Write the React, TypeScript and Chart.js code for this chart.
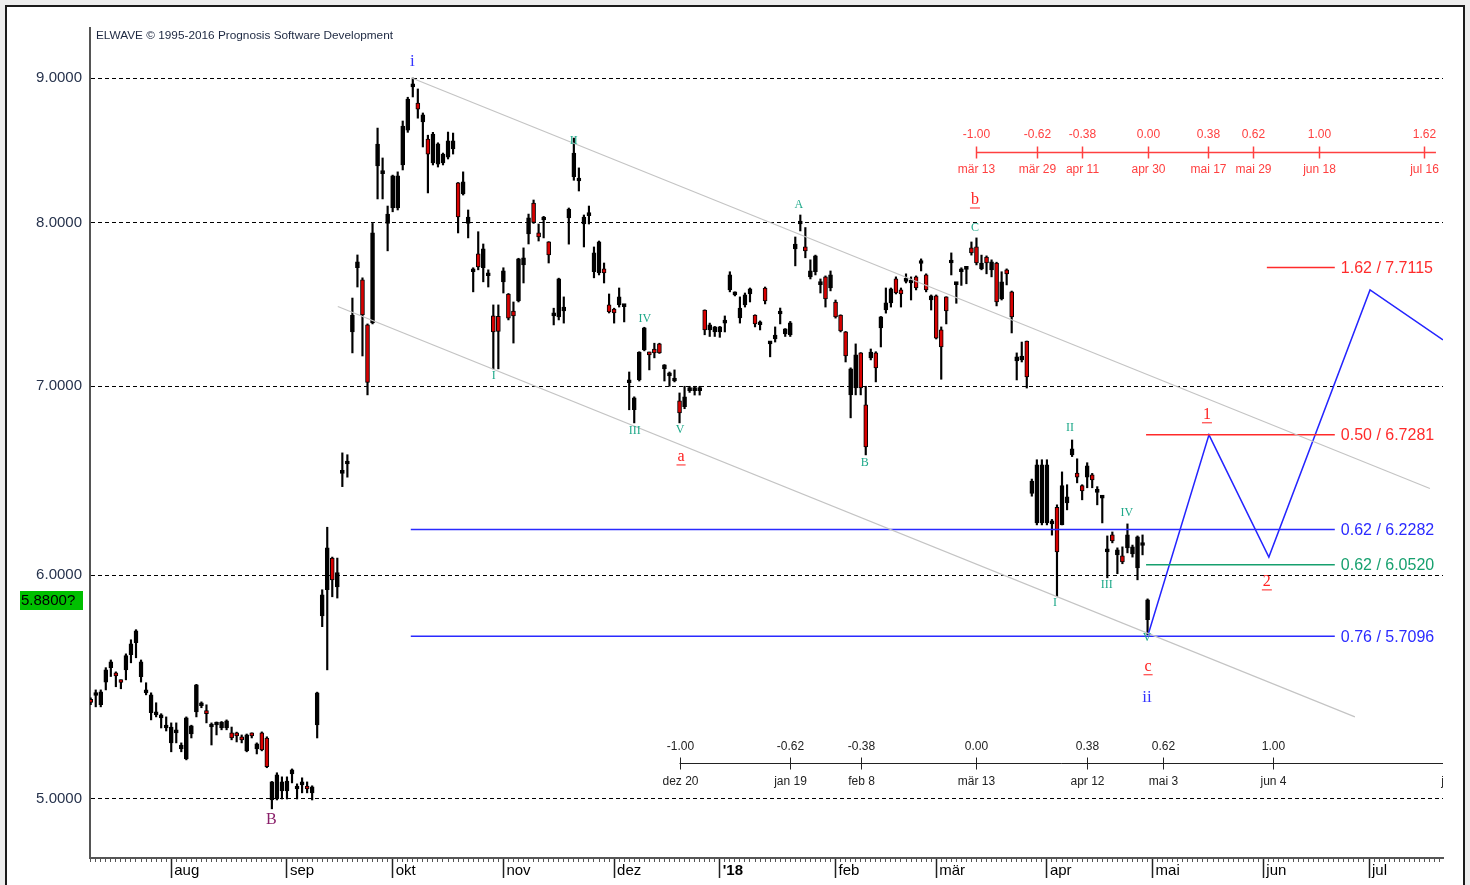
import React, { useEffect, useRef } from "react";
import { Chart, registerables } from "chart.js";

Chart.register(...registerables);

const FONT = "'Liberation Sans', Arial, sans-serif";
const SERIF = "'Liberation Serif', 'Times New Roman', serif";

// Daily candles, index 0 = Mon 10 Jul 2017, one step per weekday
const openP = [
  5.42, 5.44, 5.40, 5.50, 5.565, 5.542, 5.505, 5.555, 5.624, 5.679,
  5.524, 5.452, 5.364, 5.355, 5.342, 5.298, 5.234, 5.277, 5.208, 5.166,
  5.272, 5.368, 5.395, 5.373, 5.302, 5.311, 5.298, 5.298, 5.277, 5.277,
  5.26, 5.2, 5.27, 5.208, 5.277, 5.255, 4.996, 5.0, 5.033, 5.033,
  5.103, 5.041, 5.058, 5.045, 5.025, 5.311, 5.805, 5.93, 6.085, 5.944,
  6.52, 6.57, 7.317, 7.71, 7.634, 7.359, 7.371, 8.377, 8.325, 7.994,
  8.095, 8.095, 8.384, 8.626, 8.935, 8.818, 8.683, 8.563, 8.398, 8.39,
  8.398, 8.438, 8.494, 8.262, 8.188, 7.994, 7.685, 7.798, 7.71, 7.66,
  7.413, 7.41, 7.622, 7.547, 7.443, 7.504, 7.728, 7.925, 8.128, 7.932,
  8.016, 7.874, 7.413, 7.407, 7.443, 8.03, 8.304, 8.275, 7.99, 8.045,
  7.685, 7.678, 7.703, 7.48, 7.455, 7.48, 7.47, 7.02, 6.867, 7.036,
  7.21, 7.193, 7.216, 7.246, 7.1, 7.06, 7.03, 6.917, 6.884, 6.975,
  6.975, 6.975, 7.449, 7.329, 7.317, 7.317, 7.37, 7.572, 7.541, 7.401,
  7.48, 7.547, 7.419, 7.36, 7.584, 7.246, 7.275, 7.425, 7.305, 7.299,
  7.83, 7.99, 7.842, 7.653, 7.685, 7.605, 7.653, 7.584, 7.498, 7.419,
  7.317, 6.951, 6.99, 7.193, 6.895, 7.164, 7.193, 7.341, 7.449, 7.492,
  7.64, 7.572, 7.625, 7.615, 7.653, 7.737, 7.665, 7.51, 7.535, 7.329,
  7.529, 7.74, 7.605, 7.685, 7.70, 7.836, 7.842, 7.703, 7.778, 7.697,
  7.74, 7.516, 7.697, 7.56, 7.146, 7.152, 7.263, 6.414, 6.262, 6.262,
  6.262, 6.257, 6.342, 6.252, 6.365, 6.619, 6.522, 6.455, 6.50, 6.512,
  6.42, 6.39, 6.116, 6.201, 6.101, 6.096, 6.136, 6.106, 6.037, 6.148,
  5.787,
];
const highP = [
  5.43, 5.465, 5.465, 5.565, 5.60, 5.546, 5.51, 5.628, 5.693, 5.74,
  5.60, 5.497, 5.452, 5.408, 5.36, 5.346, 5.32, 5.32, 5.234, 5.346,
  5.31, 5.49, 5.412, 5.399, 5.32, 5.324, 5.326, 5.333, 5.302, 5.28,
  5.268, 5.272, 5.277, 5.234, 5.281, 5.26, 5.072, 5.108, 5.091, 5.091,
  5.124, 5.062, 5.087, 5.07, 5.054, 5.455, 5.93, 6.24, 6.09, 6.085,
  6.63, 6.62, 7.522, 7.791, 7.647, 7.365, 7.994, 8.64, 8.432, 8.108,
  8.315, 8.337, 8.69, 8.86, 9.0, 8.92, 8.747, 8.59, 8.61, 8.537,
  8.466, 8.612, 8.605, 8.265, 8.337, 8.082, 7.71, 7.94, 7.861, 7.697,
  7.48, 7.48, 7.71, 7.55, 7.498, 7.77, 7.836, 8.055, 8.148, 7.99,
  8.04, 7.876, 7.46, 7.645, 7.529, 8.095, 8.57, 8.364, 8.049, 8.108,
  7.842, 7.88, 7.74, 7.547, 7.46, 7.584, 7.477, 7.082, 6.94, 7.2,
  7.345, 7.198, 7.25, 7.25, 7.125, 7.082, 7.094, 6.962, 7.0, 7.0,
  7.0, 7.0, 7.45, 7.37, 7.35, 7.35, 7.413, 7.685, 7.56, 7.529,
  7.553, 7.584, 7.42, 7.383, 7.59, 7.26, 7.347, 7.461, 7.337, 7.38,
  7.906, 8.049, 7.967, 7.76, 7.79, 7.64, 7.659, 7.69, 7.51, 7.42,
  7.32, 7.106, 7.246, 7.195, 7.0, 7.216, 7.2, 7.41, 7.584, 7.584,
  7.653, 7.584, 7.672, 7.653, 7.659, 7.766, 7.672, 7.541, 7.541, 7.347,
  7.53, 7.804, 7.615, 7.71, 7.716, 7.874, 7.9, 7.79, 7.785, 7.76,
  7.745, 7.685, 7.703, 7.565, 7.193, 7.257, 7.263, 6.49, 6.593, 6.593,
  6.593, 6.28, 6.355, 6.528, 6.46, 6.70, 6.598, 6.46, 6.577, 6.52,
  6.45, 6.40, 6.196, 6.216, 6.136, 6.141, 6.257, 6.15, 6.196, 6.201,
  5.886,
];
const lowP = [
  5.40, 5.39, 5.39, 5.465, 5.525, 5.479, 5.47, 5.51, 5.587, 5.61,
  5.50, 5.443, 5.333, 5.346, 5.298, 5.285, 5.196, 5.234, 5.196, 5.162,
  5.255, 5.346, 5.386, 5.32, 5.225, 5.268, 5.29, 5.29, 5.247, 5.238,
  5.234, 5.196, 5.255, 5.187, 5.2, 5.129, 4.96, 4.996, 5.0, 5.0,
  5.066, 5.0, 5.025, 5.025, 4.996, 5.255, 5.754, 5.555, 5.896, 5.89,
  6.45, 6.50, 7.193, 7.59, 7.175, 6.951, 7.365, 8.155, 8.155, 7.817,
  8.07, 8.082, 8.35, 8.61, 8.862, 8.71, 8.508, 8.195, 8.384, 8.37,
  8.384, 8.425, 8.459, 7.932, 8.181, 7.9, 7.56, 7.697, 7.622, 7.59,
  7.1, 7.1, 7.553, 7.389, 7.251, 7.498, 7.615, 7.861, 7.994, 7.88,
  7.9, 7.74, 7.359, 7.389, 7.37, 7.86, 8.28, 8.208, 7.842, 7.99,
  7.647, 7.665, 7.615, 7.431, 7.37, 7.467, 7.377, 6.867, 6.794, 7.03,
  7.205, 7.094, 7.164, 7.19, 7.03, 7.0, 7.025, 6.794, 6.873, 6.965,
  6.95, 6.95, 7.3, 7.29, 7.29, 7.285, 7.317, 7.56, 7.535, 7.37,
  7.467, 7.498, 7.347, 7.329, 7.486, 7.17, 7.257, 7.365, 7.29, 7.29,
  7.722, 7.945, 7.773, 7.64, 7.665, 7.553, 7.467, 7.566, 7.40, 7.317,
  7.14, 6.822, 6.951, 6.951, 6.619, 7.152, 7.025, 7.228, 7.43, 7.467,
  7.547, 7.467, 7.615, 7.51, 7.572, 7.69, 7.56, 7.449, 7.275, 7.04,
  7.365, 7.665, 7.49, 7.6, 7.61, 7.79, 7.728, 7.697, 7.672, 7.653,
  7.474, 7.51, 7.603, 7.311, 7.036, 7.14, 6.99, 6.40, 6.252, 6.252,
  6.252, 6.2, 5.896, 6.252, 6.329, 6.61, 6.47, 6.381, 6.444, 6.444,
  6.355, 6.262, 5.988, 6.161, 6.008, 6.057, 6.111, 6.09, 5.978, 6.101,
  5.716,
];
const closeP = [
  5.41, 5.445, 5.456, 5.555, 5.592, 5.528, 5.498, 5.62, 5.674, 5.735,
  5.592, 5.465, 5.443, 5.368, 5.355, 5.311, 5.302, 5.29, 5.225, 5.342,
  5.307, 5.488, 5.408, 5.36, 5.311, 5.32, 5.324, 5.329, 5.255, 5.264,
  5.247, 5.268, 5.264, 5.23, 5.204, 5.133, 5.07, 5.099, 5.07, 5.074,
  5.12, 5.045, 5.062, 5.041, 5.05, 5.452, 5.906, 6.136, 5.978, 6.013,
  6.535, 6.585, 7.419, 7.747, 7.419, 7.022, 7.932, 8.528, 8.335, 8.055,
  8.31, 8.31, 8.654, 8.847, 8.956, 8.775, 8.733, 8.459, 8.598, 8.53,
  8.459, 8.55, 8.55, 8.036, 8.27, 8.036, 7.697, 7.716, 7.83, 7.67,
  7.317, 7.32, 7.69, 7.40, 7.413, 7.766, 7.773, 8.03, 8.0, 7.906,
  8.036, 7.791, 7.419, 7.64, 7.467, 8.088, 8.466, 8.29, 8.036, 8.055,
  7.804, 7.874, 7.678, 7.437, 7.431, 7.529, 7.475, 7.03, 6.934, 7.198,
  7.341, 7.181, 7.193, 7.193, 7.123, 7.065, 7.036, 6.85, 6.94, 6.985,
  6.985, 6.985, 7.329, 7.359, 7.347, 7.347, 7.377, 7.665, 7.553, 7.461,
  7.541, 7.578, 7.365, 7.368, 7.504, 7.257, 7.299, 7.437, 7.335, 7.371,
  7.861, 8.0, 7.817, 7.69, 7.785, 7.615, 7.516, 7.665, 7.407, 7.323,
  7.175, 7.1, 7.181, 6.99, 6.662, 7.198, 7.106, 7.407, 7.492, 7.578,
  7.553, 7.547, 7.632, 7.628, 7.584, 7.745, 7.572, 7.535, 7.28, 7.228,
  7.443, 7.748, 7.612, 7.703, 7.706, 7.804, 7.74, 7.74, 7.74, 7.747,
  7.498, 7.622, 7.672, 7.407, 7.17, 7.175, 7.054, 6.479, 6.566, 6.566,
  6.566, 6.262, 6.116, 6.455, 6.397, 6.652, 6.50, 6.428, 6.56, 6.486,
  6.428, 6.397, 6.126, 6.171, 6.126, 6.066, 6.201, 6.141, 6.191, 6.154,
  5.882,
];

const monthLabels = ["aug", "sep", "okt", "nov", "dez", "'18", "feb", "mär", "apr", "mai", "jun", "jul"];
const monthDays = [16, 39, 60, 82, 104, 125, 148, 168, 190, 211, 233, 254];
const priceTicks = [5, 6, 7, 8, 9];
const X_MIN = -0.14;
const X_MAX = 268.7;
const Y_MIN = 4.7651;
const Y_MAX = 9.3745;
const lastPriceLabel = 5.88;

// Channel (grey)
const channelUpperDays = [63.8, 266.1];
const channelUpperPrices = [9.0, 6.44];
const channelLowerDays = [49.1, 251.2];
const channelLowerPrices = [7.47, 5.346];

// Fibonacci price targets
const fibRatios = ["1.62", "0.50", "0.62", "0.62", "0.76"];
const fibValues = [7.7115, 6.7281, 6.2282, 6.052, 5.7096];
const fibStartDays = [233.7, 209.7, 63.6, 209.7, 63.6];
const fibEndDay = 247.2;
const fibColors = ["#ff2b2b", "#ff2b2b", "#2a2aff", "#16a06e", "#2a2aff"];

// Projected path (blue)
const projDays = [210.1, 222.2, 234.1, 254.2, 268.7];
const projPrices = [5.716, 6.728, 6.09, 7.572, 7.27];

// Wave labels
const waveBlue = [
  { t: "i", d: 63.9, p: 9.118 },
  { t: "ii", d: 209.9, p: 5.433 },
];
const waveRed = [
  { t: "a", d: 117.3, p: 6.608 },
  { t: "b", d: 175.7, p: 8.148 },
  { t: "c", d: 210.1, p: 5.569 },
  { t: "1", d: 221.8, p: 6.839 },
  { t: "2", d: 233.7, p: 5.968 },
];
const waveTeal = [
  { t: "I", d: 80.1, p: 7.059 },
  { t: "II", d: 96.0, p: 8.549 },
  { t: "III", d: 108.1, p: 6.75 },
  { t: "IV", d: 110.1, p: 7.395 },
  { t: "V", d: 117.1, p: 6.756 },
  { t: "A", d: 140.7, p: 8.115 },
  { t: "B", d: 153.8, p: 6.577 },
  { t: "C", d: 175.7, p: 7.964 },
  { t: "I", d: 191.6, p: 5.868 },
  { t: "II", d: 194.6, p: 6.767 },
  { t: "III", d: 201.9, p: 5.954 },
  { t: "IV", d: 205.9, p: 6.313 },
  { t: "V", d: 209.9, p: 5.704 },
];
const wavePurple = [{ t: "B", d: 35.9, p: 4.915 }];

// Time rulers
const topRulerFibs = ["-1.00", "-0.62", "-0.38", "0.00", "0.38", "0.62", "1.00", "1.62"];
const topRulerDates = ["mär 13", "mär 29", "apr 11", "apr 30", "mai 17", "mai 29", "jun 18", "jul 16"];
const topRulerDays = [176, 188, 197, 210, 222, 231, 244, 265];
const topRulerEndDay = 267.3;
const topRulerPrice = 8.473;
const bottomRulerFibs = ["-1.00", "-0.62", "-0.38", "0.00", "0.38", "0.62", "1.00", "1.62"];
const bottomRulerDates = ["dez 20", "jan 19", "feb 8", "mär 13", "apr 12", "mai 3", "jun 4", "jul 20"];
const bottomRulerDays = [117, 139, 153, 176, 198, 213, 235, 271];
const bottomRulerEndDay = 280;
const bottomRulerPrice = 5.149;

const minorTicks = Array.from({ length: 269 }, (_, i) => i);

function drawRuler(
  ctx: CanvasRenderingContext2D,
  xs: any,
  ys: any,
  days: number[],
  fibs: string[],
  dates: string[],
  endDay: number,
  price: number,
  color: string,
  lw: number,
  font: string,
  upOff: number,
  downOff: number
) {
  const y = Math.round(ys.getPixelForValue(price)) + 0.5;
  const x0 = xs.getPixelForValue(days[0]);
  const x1 = xs.getPixelForValue(endDay);
  ctx.strokeStyle = color;
  ctx.fillStyle = color;
  ctx.lineWidth = lw;
  ctx.beginPath();
  ctx.moveTo(x0, y);
  ctx.lineTo(x1, y);
  ctx.stroke();
  ctx.font = font;
  ctx.textAlign = "center";
  ctx.textBaseline = "middle";
  days.forEach((d, i) => {
    const x = Math.round(xs.getPixelForValue(d)) + 0.5;
    ctx.beginPath();
    ctx.moveTo(x, y - 6);
    ctx.lineTo(x, y + 6);
    ctx.stroke();
    ctx.fillText(fibs[i], x, y - upOff);
    ctx.fillText(dates[i], x, y + downOff);
  });
}

function drawLabel(ctx: CanvasRenderingContext2D, text: string, x: number, y: number, underline: boolean) {
  ctx.fillText(text, x, y);
  if (underline) {
    const w = ctx.measureText(text).width;
    ctx.beginPath();
    ctx.moveTo(x - w / 2 - 1, y + 8);
    ctx.lineTo(x + w / 2 + 1, y + 8);
    ctx.stroke();
  }
}

const overlayPlugin = {
  id: "elwaveOverlay",
  afterDraw(chart: any) {
    const { ctx, chartArea: a, scales } = chart;
    const xs = scales.x;
    const ys = scales.y;
    const px = (d: number) => xs.getPixelForValue(d);
    const py = (p: number) => ys.getPixelForValue(p);
    ctx.save();

    // copyright line
    ctx.font = `11.8px ${FONT}`;
    ctx.fillStyle = "#1c2740";
    ctx.textAlign = "left";
    ctx.textBaseline = "middle";
    ctx.fillText("ELWAVE © 1995-2016 Prognosis Software Development", a.left + 6, a.top + 8);

    // last price box
    const yl = py(lastPriceLabel);
    ctx.fillStyle = "#00c000";
    ctx.fillRect(20, Math.round(yl) - 9, 63, 19);
    ctx.fillStyle = "#000";
    ctx.font = `15px ${FONT}`;
    ctx.fillText(lastPriceLabel.toFixed(4) + "?", 21, yl + 1);

    // fib labels
    ctx.font = `16px ${FONT}`;
    fibValues.forEach((v, i) => {
      ctx.fillStyle = fibColors[i];
      ctx.fillText(`${fibRatios[i]} / ${v.toFixed(4)}`, px(fibEndDay) + 6, py(v) + 1);
    });

    // wave labels
    ctx.textAlign = "center";
    ctx.font = `17px ${SERIF}`;
    ctx.fillStyle = "#3434ff";
    ctx.strokeStyle = "#3434ff";
    waveBlue.forEach((w) => drawLabel(ctx, w.t, px(w.d), py(w.p), false));
    ctx.font = `16px ${SERIF}`;
    ctx.fillStyle = "#ff2020";
    ctx.strokeStyle = "#ff2020";
    ctx.lineWidth = 1;
    waveRed.forEach((w) => drawLabel(ctx, w.t, px(w.d), py(w.p), true));
    ctx.font = `12px ${SERIF}`;
    ctx.fillStyle = "#1fa98a";
    waveTeal.forEach((w) => drawLabel(ctx, w.t, px(w.d), py(w.p), false));
    ctx.font = `16px ${SERIF}`;
    ctx.fillStyle = "#8a1f6a";
    wavePurple.forEach((w) => drawLabel(ctx, w.t, px(w.d), py(w.p), false));

    // time rulers (clipped to plot)
    ctx.beginPath();
    ctx.rect(a.left, a.top, a.right - a.left, a.bottom - a.top);
    ctx.clip();
    drawRuler(ctx, xs, ys, topRulerDays, topRulerFibs, topRulerDates, topRulerEndDay, topRulerPrice,
      "#ff4040", 1.5, `12px ${FONT}`, 18, 17);
    drawRuler(ctx, xs, ys, bottomRulerDays, bottomRulerFibs, bottomRulerDates, bottomRulerEndDay, bottomRulerPrice,
      "#222222", 1, `12px ${FONT}`, 17, 18);

    ctx.restore();
  },
};

export default function App() {
  const ref = useRef<HTMLCanvasElement>(null);

  useEffect(() => {
    const bodyData = openP.map((o, i) => ({ x: i, y: [o, closeP[i]] }));
    const wickData = lowP.map((l, i) => ({ x: i, y: [l, highP[i]] }));
    const lineDs = (days: number[], prices: number[], color: string, width: number) => ({
      type: "line" as const,
      data: days.map((d, i) => ({ x: d, y: prices[i] })),
      borderColor: color,
      borderWidth: width,
      pointRadius: 0,
      fill: false,
      tension: 0,
      order: 0,
    });

    const datasets: any[] = [
      lineDs(channelUpperDays, channelUpperPrices, "#c4c4c4", 1.2),
      lineDs(channelLowerDays, channelLowerPrices, "#c4c4c4", 1.2),
      ...fibValues.map((v, i) => lineDs([fibStartDays[i], fibEndDay], [v, v], fibColors[i], 1.5)),
      lineDs(projDays, projPrices, "#2424ff", 1.5),
      {
        type: "bar",
        data: bodyData,
        backgroundColor: (c: any) => (closeP[c.dataIndex] < openP[c.dataIndex] ? "#d80000" : "#000000"),
        borderColor: "#000",
        borderWidth: 1,
        borderSkipped: false,
        barThickness: 4,
        minBarLength: 3,
        grouped: false,
        order: 1,
      },
      {
        type: "bar",
        data: wickData,
        backgroundColor: "#000",
        borderWidth: 0,
        barThickness: 1.5,
        grouped: false,
        order: 2,
      },
    ];

    const chart = new Chart(ref.current as HTMLCanvasElement, {
      type: "bar",
      data: { datasets },
      options: {
        animation: false,
        responsive: false,
        maintainAspectRatio: false,
        devicePixelRatio: 1,
        events: [],
        layout: { padding: { left: 0, top: 28, right: 27, bottom: 0 } },
        plugins: { legend: { display: false }, tooltip: { enabled: false } },
        scales: {
          x: {
            type: "linear",
            position: "bottom",
            min: X_MIN,
            max: X_MAX,
            offset: false,
            weight: 0,
            afterBuildTicks: (s: any) => {
              s.ticks = minorTicks.map((v) => ({ value: v }));
            },
            afterFit: (s: any) => {
              s.height = 0;
            },
            grid: { offset: false, drawOnChartArea: false, drawTicks: true, tickLength: 4, tickColor: "#555", tickWidth: 1 },
            border: { display: true, color: "#555", width: 2 },
            ticks: { display: false },
          },
          xm: {
            type: "linear",
            axis: "x",
            position: "bottom",
            min: X_MIN,
            max: X_MAX,
            offset: false,
            weight: 1,
            afterBuildTicks: (s: any) => {
              s.ticks = monthDays.map((v) => ({ value: v }));
            },
            afterFit: (s: any) => {
              s.height = 27;
            },
            grid: { offset: false, drawOnChartArea: false, drawTicks: true, tickLength: 20, tickColor: "#222", tickWidth: 1.5 },
            border: { display: false },
            ticks: {
              autoSkip: false,
              maxRotation: 0,
              align: "start",
              labelOffset: 3,
              padding: -16,
              color: "#000",
              callback: (_v: any, i: number) => monthLabels[i],
              font: (c: any) => ({ size: 15, family: FONT, weight: c.index === 5 ? "bold" : "normal" }),
            },
          },
          y: {
            type: "logarithmic",
            min: Y_MIN,
            max: Y_MAX,
            afterBuildTicks: (s: any) => {
              s.ticks = priceTicks.map((v) => ({ value: v }));
            },
            afterFit: (s: any) => {
              s.width = 90;
            },
            grid: { color: "#000", lineWidth: 1, drawTicks: false },
            border: { display: true, color: "#555", width: 2, dash: [4, 3] },
            ticks: {
              padding: 8,
              color: "#26324c",
              font: { size: 15, family: FONT },
              callback: (v: any) => Number(v).toFixed(4),
            },
          },
        } as any,
      },
      plugins: [overlayPlugin],
    } as any);

    return () => chart.destroy();
  }, []);

  return (
    <div style={{ position: "absolute", left: 0, top: 0, width: 1470, height: 885, background: "#ededed", overflow: "hidden" }}>
      <div
        style={{
          position: "absolute",
          left: 5,
          top: 5,
          width: 1460,
          height: 892,
          background: "#ffffff",
          border: "2px solid #1b1b1b",
          boxSizing: "border-box",
        }}
      />
      <canvas ref={ref} width={1470} height={885} style={{ position: "absolute", left: 0, top: 0, width: 1470, height: 885 }} />
    </div>
  );
}
